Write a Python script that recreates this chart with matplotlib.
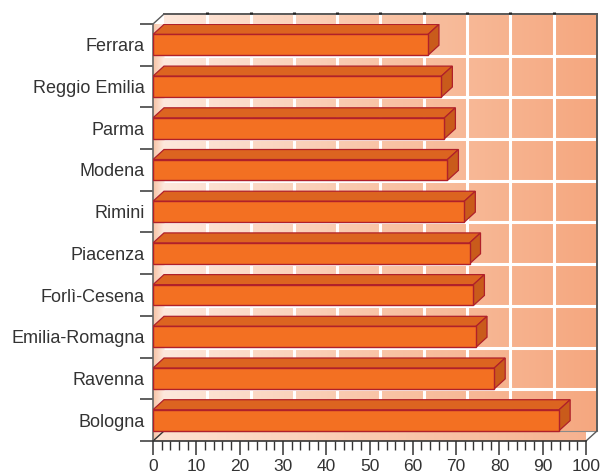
import matplotlib.pyplot as plt
import numpy as np
from matplotlib.patches import Polygon, Rectangle
from matplotlib.colors import LinearSegmentedColormap

plt.rcParams['font.family'] = ['Liberation Sans', 'DejaVu Sans']

# bottom to top
cities = ['Bologna', 'Ravenna', 'Emilia-Romagna', 'Forlì-Cesena', 'Piacenza',
          'Rimini', 'Modena', 'Parma', 'Reggio Emilia', 'Ferrara']
values = [93.8, 78.8, 74.6, 74.0, 73.1, 71.9, 68.0, 67.3, 66.6, 63.5]
xticks = list(range(0, 101, 10))

fig = plt.figure(figsize=(6.06, 4.76), dpi=100)
ax = fig.add_axes([153 / 606, 35 / 476, 433 / 606, 417 / 476])

n = len(cities)
lo, hi = -0.5, n - 0.5
dx, dy = 2.54, 0.24   # depth offset of the back wall

wall_cm = LinearSegmentedColormap.from_list('wall', ['#fde8dc', '#f9c4a6', '#f5a77f'])
grad = np.linspace(0, 1, 256).reshape(1, -1)

# back wall
ax.imshow(grad, cmap=wall_cm, extent=(dx, 100 + dx, lo + dy, hi + dy),
          aspect='auto', clip_on=False, zorder=0)

# floor
floor = Polygon([(0, lo), (100, lo), (100 + dx, lo + dy), (dx, lo + dy)],
                closed=True, facecolor='none', edgecolor='none')
ax.add_patch(floor)
im = ax.imshow(grad, cmap=LinearSegmentedColormap.from_list('floor', ['#fde2d2', '#f6b18e']),
               extent=(0, 100 + dx, lo, lo + dy), aspect='auto', clip_on=True, zorder=0.5)
im.set_clip_path(floor)

# left wall
lwall = Polygon([(0, lo), (dx, lo + dy), (dx, hi + dy), (0, hi)],
                closed=True, facecolor='none', edgecolor='none')
ax.add_patch(lwall)
im2 = ax.imshow(grad, cmap=LinearSegmentedColormap.from_list('lw', ['#f8c2a4', '#fde9de']),
                extent=(0, dx, lo, hi + dy), aspect='auto', zorder=0.5)
im2.set_clip_path(lwall)

# white grid on the back wall
for t in xticks[1:-1]:
    ax.plot([t + dx, t + dx], [lo + dy, hi + dy], color='white', lw=2.2, zorder=1,
            clip_on=False, solid_capstyle='butt')
for k in range(1, n):
    ax.plot([dx, 100 + dx], [k - 0.5 + dy, k - 0.5 + dy], color='white', lw=2.2,
            zorder=1, clip_on=False, solid_capstyle='butt')

# wall outlines
edge = '#5a5a5a'
ax.plot([dx, 100 + dx], [hi + dy, hi + dy], color=edge, lw=1.4, zorder=2, clip_on=False)
ax.plot([100 + dx, 100 + dx], [lo + dy, hi + dy], color=edge, lw=1.4, zorder=2, clip_on=False)
ax.plot([dx, 100 + dx], [lo + dy, lo + dy], color='#8a8a8a', lw=0.8, zorder=2, clip_on=False)
ax.plot([100, 100 + dx], [lo, lo + dy], color=edge, lw=1.0, zorder=2, clip_on=False)
ax.plot([0, dx], [hi, hi + dy], color=edge, lw=1.0, zorder=2, clip_on=False)
ax.plot([0, dx], [lo, lo + dy], color='#333333', lw=1.0, zorder=2, clip_on=False)
ax.plot([0, 0], [lo, hi], color='#666666', lw=1.2, zorder=2, clip_on=False)
ax.plot([0, 100], [lo, lo], color='#333333', lw=1.2, zorder=2, clip_on=False)
for t in xticks[1:-1]:
    ax.plot([t + dx, t + dx], [hi + dy, hi + dy + 0.04], color='#222222', lw=2.2,
            zorder=2, clip_on=False, solid_capstyle='butt')

# 3D bars
front_c, top_c, side_c, line_c = '#f37022', '#dc6420', '#c95b1b', '#b0202a'
h = 0.25
for i, v in enumerate(values):
    ax.add_patch(Polygon([(0, i + h), (v, i + h), (v + dx, i + h + dy), (dx, i + h + dy)],
                         closed=True, facecolor=top_c, edgecolor=line_c, lw=0.9, zorder=3))
    ax.add_patch(Polygon([(v, i - h), (v + dx, i - h + dy), (v + dx, i + h + dy), (v, i + h)],
                         closed=True, facecolor=side_c, edgecolor=line_c, lw=0.9, zorder=3))
    ax.add_patch(Rectangle((0, i - h), v, 2 * h, facecolor=front_c, edgecolor=line_c,
                           lw=1.0, zorder=4))

ax.set_xlim(0, 100)
ax.set_ylim(lo, hi)
for s in ax.spines.values():
    s.set_visible(False)

ax.set_xticks(xticks)
ax.set_xticks(np.arange(0, 101, 2), minor=True)
ax.tick_params(axis='x', which='major', length=10, width=1.1, color='#333333',
               labelsize=12.5, labelcolor='#333333', pad=3)
ax.tick_params(axis='x', which='minor', length=6.5, width=1.0, color='#333333')

ax.set_yticks(range(n))
ax.set_yticklabels(cities)
ax.set_yticks(np.arange(lo, hi + 0.01, 1), minor=True)
ax.tick_params(axis='y', which='major', length=0, pad=6, labelsize=13, labelcolor='#333333')
ax.tick_params(axis='y', which='minor', length=9.4, width=1.2, color='#444444')

fig.savefig('out.png', dpi=100)
